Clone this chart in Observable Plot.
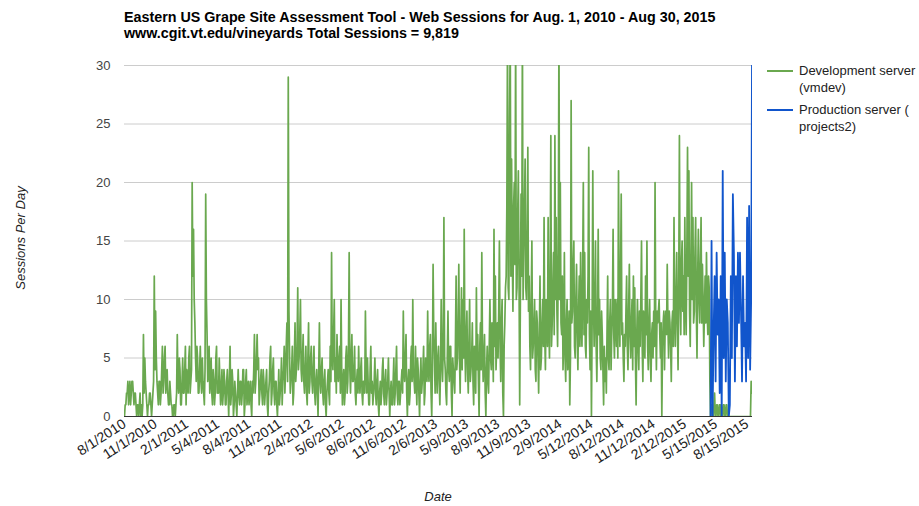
<!DOCTYPE html>
<html><head><meta charset="utf-8">
<script src="https://cdn.jsdelivr.net/npm/d3@7"></script>
<script src="https://cdn.jsdelivr.net/npm/@observablehq/plot@0.6"></script>
<style>
body{margin:0;background:#fff;font-family:"Liberation Sans",Arial,sans-serif;}
#wrap{position:relative;width:919px;height:506px;overflow:hidden;}
#chart{position:absolute;left:0;top:0;}
#title{position:absolute;left:124px;top:9px;font-weight:bold;font-size:14.3px;line-height:16px;color:#000;white-space:nowrap;}
.leg{position:absolute;left:799px;font-size:13px;line-height:17px;color:#222;white-space:nowrap;}
.sw{position:absolute;left:767px;width:26px;height:2px;}
#ytitle{position:absolute;left:20px;top:238px;transform:translate(-50%,-50%) rotate(-90deg);font-style:italic;font-size:13px;color:#222;white-space:nowrap;}
#xtitle{position:absolute;left:438px;top:489px;transform:translateX(-50%);font-style:italic;font-size:13px;color:#222;}
</style></head>
<body><div id="wrap">
<div id="chart"></div>
<div id="title"></div>
<div class="sw" id="sw1" style="top:70px"></div>
<div class="leg" id="leg1" style="top:62px"></div>
<div class="sw" id="sw2" style="top:109px"></div>
<div class="leg" id="leg2" style="top:101px"></div>
<div id="ytitle"></div>
<div id="xtitle"></div>
</div>
<script>
const titleLines = ["Eastern US Grape Site Assessment Tool - Web Sessions for Aug. 1, 2010 - Aug 30, 2015",
                    "www.cgit.vt.edu/vineyards Total Sessions = 9,819"];
const seriesNames = [["Development server", "(vmdev)"], ["Production server (", "projects2)"]];
const seriesColors = ["#6aa84f", "#1155cc"];
const yTitle = "Sessions Per Day";
const xTitle = "Date";
const yTicks = [0, 5, 10, 15, 20, 25, 30];
const tickLabels = ["8/1/2010","11/1/2010","2/1/2011","5/4/2011","8/4/2011","11/4/2011","2/4/2012","5/6/2012",
  "8/6/2012","11/6/2012","2/6/2013","5/9/2013","8/9/2013","11/9/2013","2/9/2014","5/12/2014","8/12/2014",
  "11/12/2014","2/12/2015","5/15/2015","8/15/2015"];
const dateStart = "2010-08-01", dateEnd = "2015-08-31";

// Development server (vmdev): sessions per day, readings every 4 days from 8/1/2010 ...
const devStart = "2010-08-01", devStepDays = 4;
const devValues = [
 0,1,2,1,3,2,3,1,2,0,1,1,0,0,7,5,2,0,1,2,0,2,12,
 9,3,1,3,2,6,3,6,3,2,1,2,1,0,1,1,7,2,4,1,5,2,6,
 4,2,6,3,20,16,8,3,5,2,6,2,3,1,19,7,4,2,5,1,3,2,6,
 3,5,1,4,2,3,1,4,0,6,2,3,1,2,0,4,1,3,2,4,1,4,2,
 1,3,0,2,7,3,7,5,2,4,1,3,2,4,0,3,6,2,5,1,3,0,4,
 2,5,3,6,4,8,29,5,3,6,2,8,4,11,5,10,3,7,2,6,1,8,3,
 6,2,6,1,4,0,8,2,5,1,4,0,3,2,6,14,4,10,5,7,3,6,10,
 1,4,2,6,3,14,2,7,3,6,1,4,6,2,5,1,3,9,2,3,1,6,3,
 2,5,1,4,0,3,2,5,1,4,2,5,0,3,1,5,2,6,1,3,2,4,9,
 3,7,0,4,2,6,10,3,6,1,4,0,5,3,6,2,4,9,3,7,0,13,5,
 8,2,6,1,10,3,17,4,1,9,3,6,0,4,2,12,5,13,2,11,10,16,3,
 9,2,10,4,8,1,5,11,7,0,8,14,3,7,0,6,2,10,4,7,16,12,6,
 5,15,3,10,0,8,12,33,10,33,22,9,20,33,11,21,1,19,33,14,22,10,23,
 12,4,15,6,10,3,8,2,12,5,10,17,4,9,17,5,24,8,14,24,17,6,33,
 20,7,4,14,3,10,6,1,27,9,15,5,13,4,12,14,6,20,14,5,8,23,4,
 0,21,6,15,3,16,10,4,7,1,3,2,12,4,10,7,16,5,9,10,21,6,19,
 8,3,6,12,4,13,5,10,12,11,1,10,4,6,15,3,8,12,15,4,10,3,8,
 9,20,4,8,10,5,0,8,4,9,13,5,8,3,9,17,6,14,4,24,7,15,12,
 17,7,23,21,6,20,17,9,17,5,16,8,17,13,6,12,14,7,11,0,1,0,2,
 0,1,0,1,1,0,1,0,1,0,0,0,0,0,0,0,0,0,0,0,0,0,0,
 0,0,0,3
];
// ... and the readings two days after each of those (from 8/3/2010)
const devMidStart = "2010-08-03";
const devValuesMid = [
 1,2,3,2,1,3,2,2,1,1,0,2,1,1,2,3,1,1,2,1,1,3,4,
 5,2,3,1,4,2,5,2,4,1,3,1,0,1,0,2,3,5,1,3,2,4,1,
 3,5,2,4,12,10,5,6,2,4,3,5,2,4,10,3,6,3,2,4,1,5,2,
 2,3,2,1,4,1,3,2,3,1,4,0,3,1,2,2,3,1,4,0,3,1,3,
 2,1,3,4,2,5,4,1,3,2,4,1,3,1,2,5,1,4,2,3,1,2,1,
 3,1,4,2,6,3,9,2,4,1,5,3,6,4,7,4,5,3,4,2,5,2,5,
 3,4,2,3,2,4,3,4,2,3,1,2,4,1,3,5,7,3,2,4,5,2,4,
 3,1,5,2,6,4,5,3,4,2,3,2,3,4,2,3,2,4,5,1,4,2,1,
 3,2,3,1,2,1,4,2,3,1,3,2,2,1,3,1,4,2,3,1,3,2,4,
 5,2,3,1,5,3,4,2,3,5,2,3,2,4,1,5,3,4,6,2,4,7,2,
 4,5,3,4,5,6,5,2,5,4,6,2,5,3,6,4,8,5,7,4,5,6,7,
 4,6,3,5,3,6,2,4,3,6,4,6,5,2,4,3,6,5,8,3,6,4,8,
 9,6,8,2,6,11,18,11,25,12,14,18,13,10,17,12,10,12,10,18,11,15,9,
 6,10,5,8,4,9,5,7,4,8,6,7,10,6,8,12,6,11,7,10,9,14,10,
 8,12,7,5,8,4,9,5,8,13,6,10,7,9,6,8,12,7,6,10,12,7,9,
 8,10,9,6,8,7,5,9,4,6,5,7,5,8,4,9,7,10,6,5,9,12,7,
 5,7,9,6,9,7,8,4,6,5,7,6,9,10,6,9,5,7,6,8,5,7,5,
 6,8,9,9,7,8,6,9,8,7,8,9,6,8,6,9,10,8,11,10,13,9,7,
 10,14,12,9,13,10,8,14,9,12,10,13,8,10,9,8,9,12,3,1,0,1,0,
 1,0,1,0,0,1,0,1,0,0,0,0,0,0,0,0,0,0,0,0,0,0,0,
 0,0,0,2
];

// Production server (projects2): one reading every 3 days from 4/29/2015
const prodStart = "2015-04-29", prodStepDays = 3;
const prodValues = [0,15,0,7,12,3,14,7,10,2,12,0,21,5,14,3,10,8,0,1,12,5,19,14,3,12,6,14,8,14,9,3,12,6,8,3,17,5,18,4,10,34];

const parseMDY = s => { const [m, d, y] = s.split("/").map(Number); return new Date(Date.UTC(y, m - 1, d)); };
const tickDates = tickLabels.map(parseMDY);
const fmt = d => `${d.getUTCMonth() + 1}/${d.getUTCDate()}/${d.getUTCFullYear()}`;
const dev = devValues.map((v, i) => ({date: d3.utcDay.offset(new Date(devStart), i * devStepDays), value: v}))
  .concat(devValuesMid.map((v, i) => ({date: d3.utcDay.offset(new Date(devMidStart), i * devStepDays), value: v})))
  .sort((a, b) => a.date - b.date);
const prod = prodValues.map((v, i) => ({date: d3.utcDay.offset(new Date(prodStart), i * prodStepDays), value: v}));

const chart = Plot.plot({
  width: 919, height: 506,
  marginTop: 65, marginBottom: 90, marginLeft: 124, marginRight: 167,
  style: {fontFamily: "Liberation Sans, Arial, sans-serif", fontSize: "13px", background: "transparent", overflow: "visible"},
  x: {type: "utc", domain: [new Date(dateStart), new Date(dateEnd)]},
  y: {domain: [0, 30]},
  marks: [
    Plot.gridY(yTicks.filter(v => v > 0), {stroke: "#cccccc", strokeOpacity: 1}),
    Plot.axisY(yTicks, {tickSize: 0, tickPadding: 14, fill: "#444", label: null, fontSize: 13}),
    Plot.axisX(tickDates, {tickSize: 0, tickRotate: -33, tickPadding: 6, tickFormat: fmt, label: null, fill: "#222", fontSize: 14}),
    Plot.lineY(dev, {x: "date", y: "value", stroke: seriesColors[0], strokeWidth: 1.7, clip: true}),
    Plot.lineY(prod, {x: "date", y: "value", stroke: seriesColors[1], strokeWidth: 1.8, clip: true}),
    Plot.ruleY([0], {stroke: "#333"})
  ]
});
document.getElementById("chart").appendChild(chart);
document.getElementById("title").innerHTML = titleLines.join("<br>");
document.getElementById("leg1").innerHTML = seriesNames[0].join("<br>");
document.getElementById("leg2").innerHTML = seriesNames[1].join("<br>");
document.getElementById("sw1").style.background = seriesColors[0];
document.getElementById("sw2").style.background = seriesColors[1];
document.getElementById("ytitle").textContent = yTitle;
document.getElementById("xtitle").textContent = xTitle;
</script>
</body></html>
